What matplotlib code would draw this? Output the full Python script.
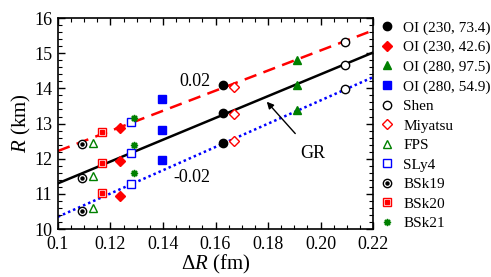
import matplotlib
matplotlib.use("Agg")
import matplotlib.pyplot as plt
from matplotlib.legend_handler import HandlerTuple
import numpy as np

plt.rcParams['font.family'] = ['Liberation Serif', 'DejaVu Serif']
plt.rcParams['mathtext.fontset'] = 'custom'
plt.rcParams['mathtext.rm'] = 'Liberation Serif'
plt.rcParams['mathtext.it'] = 'Liberation Serif:italic'

# data: (dR, R values for the -0.02 / GR / 0.02 cases)
oi1_x = [0.1627, 0.1627, 0.1627]; oi1_y = [12.45, 13.30, 14.10]
oi2_x = [0.1236, 0.1236, 0.1236]; oi2_y = [10.95, 11.93, 12.88]
oi3_x = [0.1910, 0.1910, 0.1910]; oi3_y = [13.38, 14.10, 14.82]
oi4_x = [0.1397, 0.1397, 0.1397]; oi4_y = [11.97, 12.82, 13.70]
shen_x = [0.2092, 0.2092, 0.2092]; shen_y = [13.98, 14.66, 15.33]
miy_x = [0.1670, 0.1670, 0.1670]; miy_y = [12.50, 13.28, 14.05]
fps_x = [0.1132, 0.1132, 0.1132]; fps_y = [10.60, 11.52, 12.45]
sly_x = [0.1280, 0.1280, 0.1280]; sly_y = [11.27, 12.17, 13.05]
b19_x = [0.1090, 0.1090, 0.1090]; b19_y = [10.50, 11.45, 12.42]
b20_x = [0.1166, 0.1166, 0.1166]; b20_y = [11.03, 11.88, 12.77]
b21_x = [0.1290, 0.1290, 0.1290]; b21_y = [11.60, 12.38, 13.15]

line_x = [0.10, 0.22]
gr_y = [11.30, 15.02]
plus_y = [12.22, 15.65]
minus_y = [10.35, 14.32]

xticks = [0.10, 0.12, 0.14, 0.16, 0.18, 0.20, 0.22]
xticklabels = ['0.1', '0.12', '0.14', '0.16', '0.18', '0.20', '0.22']
yticks = [10, 11, 12, 13, 14, 15, 16]

fig = plt.figure(figsize=(4.91, 2.77), dpi=100)
ax = fig.add_axes([0.118, 0.173, 0.642, 0.762])

ax.plot(line_x, gr_y, color='black', lw=1.8, zorder=1)
ax.plot(line_x, plus_y, color='red', lw=1.8, ls=(0, (5, 3)), zorder=1)
ax.plot(line_x, minus_y, color='blue', lw=1.8, ls=(0, (1, 1.2)), zorder=1)

ms = 6
h = []
h.append(ax.plot(oi1_x, oi1_y, 'o', color='black', ms=ms, ls='none')[0])
h.append(ax.plot(oi2_x, oi2_y, 'D', color='red', ms=ms-0.5, ls='none')[0])
h.append(ax.plot(oi3_x, oi3_y, '^', color='green', ms=ms, ls='none')[0])
h.append(ax.plot(oi4_x, oi4_y, 's', color='blue', ms=ms-0.5, ls='none')[0])
h.append(ax.plot(shen_x, shen_y, 'o', mfc='white', mec='black', ms=ms, ls='none', mew=1)[0])
h.append(ax.plot(miy_x, miy_y, 'D', mfc='white', mec='red', ms=ms-0.5, ls='none', mew=1)[0])
h.append(ax.plot(fps_x, fps_y, '^', mfc='white', mec='green', ms=ms, ls='none', mew=1)[0])
h.append(ax.plot(sly_x, sly_y, 's', mfc='white', mec='blue', ms=ms-0.5, ls='none', mew=1)[0])
a1 = ax.plot(b19_x, b19_y, 'o', mfc='white', mec='black', ms=ms, ls='none', mew=1)[0]
a2 = ax.plot(b19_x, b19_y, 'o', color='black', ms=2.2, ls='none')[0]
h.append((a1, a2))
b1 = ax.plot(b20_x, b20_y, 's', mfc='white', mec='red', ms=ms-0.5, ls='none', mew=1)[0]
b2 = ax.plot(b20_x, b20_y, 's', color='red', ms=2.2, ls='none')[0]
h.append((b1, b2))
h.append(ax.plot(b21_x, b21_y, marker=(8, 1, 0), color='green', ms=5, ls='none')[0])

labels = ['OI (230, 73.4)', 'OI (230, 42.6)', 'OI (280, 97.5)', 'OI (280, 54.9)',
          'Shen', 'Miyatsu', 'FPS', 'SLy4', 'BSk19', 'BSk20', 'BSk21']
fig.legend(h, labels, loc='upper left', bbox_to_anchor=(0.772, 0.925),
           frameon=False, fontsize=11, handlelength=1.0, handletextpad=0.6,
           labelspacing=0.38, borderaxespad=0, borderpad=0,
           handler_map={tuple: HandlerTuple(ndivide=1, pad=0)})

ax.text(0.158, 14.2, '0.02', ha='right', va='center', fontsize=13)
ax.text(0.158, 11.48, '-0.02', ha='right', va='center', fontsize=13)
ax.annotate('GR', xy=(0.1795, 13.62), xytext=(0.197, 12.16), ha='center', va='center',
            fontsize=13, arrowprops=dict(arrowstyle='-|>', color='black', lw=1,
                                         shrinkA=8, shrinkB=0, mutation_scale=10))

ax.set_xlim(0.10, 0.22)
ax.set_ylim(10, 16)
ax.set_xticks(xticks)
ax.set_xticklabels(xticklabels)
ax.set_yticks(yticks)
ax.xaxis.set_minor_locator(matplotlib.ticker.MultipleLocator(0.005))
ax.yaxis.set_minor_locator(matplotlib.ticker.MultipleLocator(0.2))
ax.tick_params(which='both', direction='in', top=True, right=True, labelsize=13)
ax.tick_params(which='major', length=5, width=1)
ax.tick_params(which='minor', length=3, width=0.8)
ax.tick_params(axis='x', pad=5)
ax.tick_params(axis='y', pad=4)
for s in ax.spines.values():
    s.set_linewidth(1.2)

ax.set_xlabel(r'$\mathit{\Delta R}$ (fm)', fontsize=15, labelpad=0)
ax.set_ylabel(r'$\mathit{R}$ (km)', fontsize=15, labelpad=1)

fig.savefig('out.png', dpi=100)
